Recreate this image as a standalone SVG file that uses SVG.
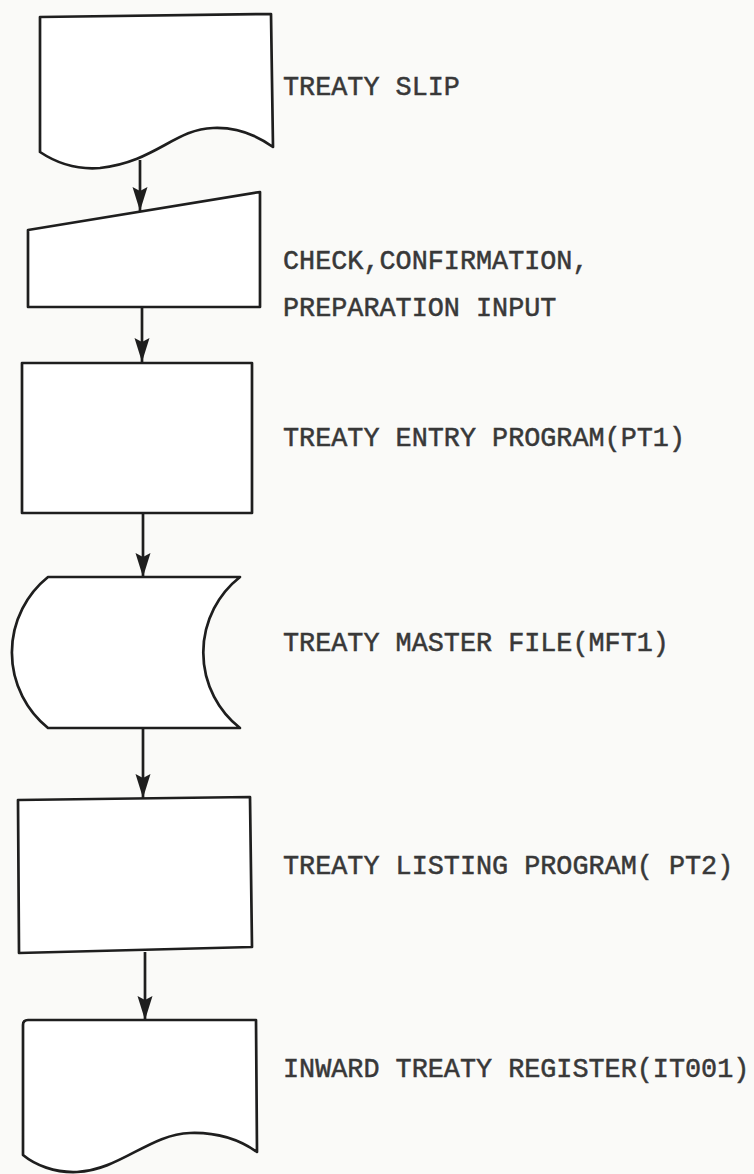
<svg xmlns="http://www.w3.org/2000/svg" width="754" height="1174" viewBox="0 0 754 1174">
  <style>
    .shape { fill: #ffffff; stroke: #1e1e1e; stroke-width: 2.7; stroke-linejoin: round; }
    .conn { stroke: #1e1e1e; stroke-width: 2.7; fill: none; }
    .lbl { font-family: "Liberation Mono", "Courier New", monospace; font-size: 26.8px; fill: #383838; stroke: #383838; stroke-width: 0.5; }
  </style>
  <defs>
    <marker id="arr" markerUnits="userSpaceOnUse" markerWidth="26" markerHeight="16" refX="24" refY="7.5" orient="auto">
      <path d="M0,0 L24,7.5 L0,15 L4,7.5 Z" fill="#1e1e1e"/>
    </marker>
  </defs>
  <rect x="0" y="0" width="754" height="1174" fill="#fafaf8"/>

  <g id="connectors">
    <line class="conn" x1="140" y1="160" x2="140" y2="211" marker-end="url(#arr)"/>
    <line class="conn" x1="142" y1="307" x2="142" y2="362" marker-end="url(#arr)"/>
    <line class="conn" x1="143" y1="513" x2="143" y2="577" marker-end="url(#arr)"/>
    <line class="conn" x1="143" y1="728" x2="143" y2="798" marker-end="url(#arr)"/>
    <line class="conn" x1="145" y1="952" x2="145" y2="1020" marker-end="url(#arr)"/>
  </g>

  <g id="treaty-slip">
    <path class="shape" d="M40,17 L271,14 L273,147 C255,134 235,127 213,128 C175,129 155,162 100,168 C75,170 55,162 40,152 Z"/>
    <text class="lbl" x="283" y="95">TREATY SLIP</text>
  </g>

  <g id="check-input">
    <path class="shape" d="M28,230 L260,192 L260,307 L28,307 Z"/>
    <text class="lbl" x="283" y="269">CHECK,CONFIRMATION,</text>
    <text class="lbl" x="283" y="316">PREPARATION INPUT</text>
  </g>

  <g id="entry-program">
    <rect class="shape" x="22" y="363" width="230" height="150"/>
    <text class="lbl" x="283" y="446">TREATY ENTRY PROGRAM(PT1)</text>
  </g>

  <g id="master-file">
    <path class="shape" d="M48,577 L240,577 A96,96 0 0 0 240,728 L48,728 A97,97 0 0 1 48,577 Z"/>
    <text class="lbl" x="283" y="651">TREATY MASTER FILE(MFT1)</text>
  </g>

  <g id="listing-program">
    <path class="shape" d="M18,800 L250,797 L252,947 L19,953 Z"/>
    <text class="lbl" x="283" y="874">TREATY LISTING PROGRAM( PT2)</text>
  </g>

  <g id="register">
    <path class="shape" d="M23,1025 Q23,1020 28,1020 L256,1020 L257,1152 C240,1140 220,1132 190,1133 C150,1134 120,1170 77,1172 C55,1173 35,1165 23,1155 Z"/>
    <text class="lbl" x="283" y="1077">INWARD TREATY REGISTER(IT001)</text>
  </g>
</svg>
